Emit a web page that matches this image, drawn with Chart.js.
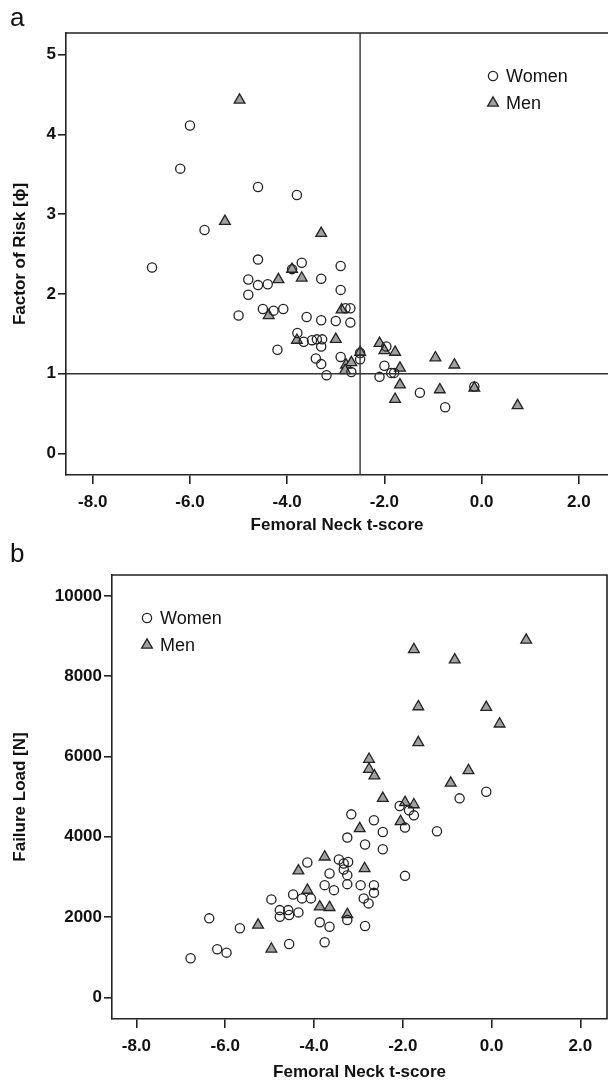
<!DOCTYPE html>
<html>
<head>
<meta charset="utf-8">
<script src="https://cdn.jsdelivr.net/npm/chart.js@4.4.1/dist/chart.umd.min.js"></script>
<style>
  html, body { margin: 0; padding: 0; background: #fff; }
  body { width: 608px; height: 1087px; position: relative; overflow: hidden; font-family: "Liberation Sans", Arial, sans-serif; }
  .panel { position: absolute; left: 0; width: 608px; }
  #wrapA { top: 0; height: 540px; }
  #wrapB { top: 540px; height: 547px; }
  .letter { position: absolute; left: 10px; font-size: 26px; color: #111; line-height: 1; }
</style>
</head>
<body>
<div class="panel" id="wrapA"><canvas id="chartA"></canvas></div>
<div class="panel" id="wrapB"><canvas id="chartB"></canvas></div>
<div class="letter" style="top:4px;">a</div>
<div class="letter" style="top:540px;">b</div>
<script>
// ---------- data ----------
const xTicks = [-8, -6, -4, -2, 0, 2];
const yTicksA = [0, 1, 2, 3, 4, 5];
const yTicksB = [0, 2000, 4000, 6000, 8000, 10000];
const seriesNames = ["Women", "Men"];
const thresholdT = -2.5;
const thresholdRisk = 1;

// Panel a: Factor of Risk vs femoral neck t-score
const womenTA = [-6.0, -6.2, -4.6, -3.8, -5.7, -6.78, -4.6, -3.7, -3.9, -2.9, -4.8, -4.6, -4.4, -3.3, -4.8, -2.9, -5.0, -4.5, -4.28, -4.08, -2.8, -2.7, -3.6, -3.3, -3.0, -2.7, -3.79, -3.66, -3.49, -3.39, -3.28, -3.3, -4.2, -3.41, -3.3, -2.9, -2.68, -3.19, -2.5, -2.5, -1.96, -2.0, -1.86, -1.8, -2.1, -1.27, -0.15, -0.75];
const womenRisk = [4.11, 3.57, 3.34, 3.24, 2.80, 2.33, 2.43, 2.39, 2.31, 2.35, 2.18, 2.11, 2.12, 2.19, 1.99, 2.05, 1.73, 1.81, 1.79, 1.81, 1.82, 1.82, 1.71, 1.67, 1.66, 1.64, 1.51, 1.40, 1.42, 1.43, 1.43, 1.34, 1.30, 1.19, 1.12, 1.21, 1.02, 0.98, 1.26, 1.18, 1.34, 1.10, 1.01, 1.01, 0.96, 0.76, 0.84, 0.58];
const menTA = [-4.98, -5.28, -3.3, -3.9, -4.18, -3.7, -4.38, -2.88, -3.8, -3.0, -2.79, -2.68, -2.81, -2.5, -2.1, -2.0, -1.78, -0.95, -0.56, -1.68, -1.68, -0.86, -0.15, -1.78, 0.74];
const menRisk = [4.43, 2.91, 2.76, 2.31, 2.18, 2.20, 1.73, 1.80, 1.42, 1.43, 1.11, 1.14, 1.04, 1.27, 1.38, 1.29, 1.27, 1.20, 1.11, 1.07, 0.86, 0.80, 0.82, 0.68, 0.60];

// Panel b: Failure load vs femoral neck t-score
const womenTB = [-0.12, -0.72, -2.07, -1.86, -1.75, -3.16, -2.65, -1.95, -1.23, -2.45, -3.25, -2.85, -2.45, -1.95, -4.15, -3.44, -3.33, -3.23, -3.65, -3.33, -3.25, -3.76, -3.55, -3.25, -2.95, -2.65, -2.65, -2.88, -2.77, -4.96, -4.47, -4.27, -4.07, -4.77, -4.58, -4.35, -4.77, -4.56, -3.25, -3.87, -3.65, -2.85, -4.56, -3.76, -6.36, -5.67, -6.18, -5.97, -6.78];
const womenLoad = [5122, 4956, 4765, 4657, 4533, 4558, 4410, 4228, 4136, 4119, 3979, 3805, 3689, 3026, 3358, 3433, 3334, 3373, 3085, 3184, 3043, 2794, 2670, 2819, 2794, 2794, 2603, 2464, 2340, 2439, 2563, 2464, 2464, 2173, 2173, 2116, 2007, 2049, 1925, 1868, 1759, 1776, 1329, 1371, 1967, 1719, 1197, 1113, 974];
const menTB = [0.78, -1.75, -0.83, -1.65, -0.12, 0.18, -1.65, -2.76, -2.76, -2.64, -0.52, -0.92, -2.45, -1.95, -1.75, -2.05, -2.97, -3.76, -2.86, -4.35, -4.15, -3.87, -3.65, -3.25, -5.26, -4.96];
const menLoad = [8898, 8665, 8408, 7241, 7224, 6811, 6347, 5932, 5683, 5519, 5651, 5336, 4956, 4856, 4799, 4380, 4203, 3498, 3209, 3150, 2670, 2255, 2240, 2066, 1801, 1205];

const xMin = -8.55, xMax = 2.6;
const yRangeA = [-0.27, 5.27];
const yRangeB = [-540, 10520];

// ---------- helpers ----------
const toPoints = (xs, ys) => xs.map((x, i) => ({ x: x, y: ys[i] }));
const INK = '#222222';
const TRI_FILL = '#a0a0a0';
const FONT = '"Liberation Sans", Arial, sans-serif';

function womenStyle(data) {
  return { label: seriesNames[0], data: data, pointStyle: 'circle', pointRadius: 4.6, pointHoverRadius: 4.6,
    pointBorderWidth: 1.3, pointBorderColor: INK, pointBackgroundColor: 'rgba(255,255,255,0)', showLine: false };
}
function menStyle(data) {
  return { label: seriesNames[1], data: data, pointStyle: 'triangle', pointRadius: 6.2, pointHoverRadius: 6.2,
    pointBorderWidth: 1.3, pointBorderColor: INK, pointBackgroundColor: TRI_FILL, showLine: false };
}

const framePlugin = {
  id: 'frame',
  afterDatasetsDraw(chart, args, opts) {
    const { ctx, chartArea: a, scales } = chart;
    ctx.save();
    if (opts.refLines) {
      ctx.strokeStyle = '#333';
      ctx.lineWidth = 1.4;
      const px = scales.x.getPixelForValue(thresholdT);
      const py = scales.y.getPixelForValue(thresholdRisk);
      ctx.beginPath();
      ctx.moveTo(px, a.top); ctx.lineTo(px, a.bottom);
      ctx.moveTo(a.left, py); ctx.lineTo(a.right, py);
      ctx.stroke();
    }
    ctx.strokeStyle = INK;
    ctx.lineWidth = 1.6;
    ctx.beginPath();
    ctx.moveTo(a.left, a.top); ctx.lineTo(a.right, a.top);
    if (opts.rightBorder) ctx.lineTo(a.right, a.bottom);
    ctx.stroke();
    // legend
    const lx = a.left + opts.legendX, ly = a.top + opts.legendY;
    chart.data.datasets.forEach((ds, i) => {
      const y = ly + i * 27;
      ctx.lineWidth = 1.3;
      ctx.strokeStyle = INK;
      ctx.fillStyle = ds.pointBackgroundColor;
      if (ds.pointStyle === 'circle') {
        ctx.beginPath(); ctx.arc(lx, y, 4.6, 0, Math.PI * 2); ctx.fill(); ctx.stroke();
      } else {
        const r = 6.2;
        ctx.beginPath();
        ctx.moveTo(lx, y - r);
        ctx.lineTo(lx + r * Math.sin(2 * Math.PI / 3), y - r * Math.cos(2 * Math.PI / 3));
        ctx.lineTo(lx + r * Math.sin(4 * Math.PI / 3), y - r * Math.cos(4 * Math.PI / 3));
        ctx.closePath(); ctx.fill(); ctx.stroke();
      }
      ctx.fillStyle = '#111';
      ctx.font = '18px ' + FONT;
      ctx.textBaseline = 'middle';
      ctx.textAlign = 'left';
      ctx.fillText(ds.label, lx + 13, y + 1);
    });
    ctx.restore();
  }
};

function makeOptions(cfg) {
  return {
    responsive: false,
    animation: false,
    layout: { autoPadding: false, padding: { top: cfg.padTop, right: cfg.padRight, left: 0, bottom: 0 } },
    plugins: { legend: { display: false }, tooltip: { enabled: false },
      frame: { refLines: cfg.refLines, legendX: cfg.legendX, legendY: cfg.legendY, rightBorder: cfg.rightBorder } },
    scales: {
      x: {
        type: 'linear', min: xMin, max: xMax,
        afterBuildTicks: s => { s.ticks = xTicks.map(v => ({ value: v })); },
        afterFit: s => { s.height = cfg.xHeight; s.paddingLeft = 0; s.paddingRight = 0; },
        ticks: { callback: v => Number(v).toFixed(1), color: '#111', padding: 8,
          font: { family: FONT, size: 17, weight: 'bold' }, maxRotation: 0, autoSkip: false },
        grid: { display: true, drawOnChartArea: false, drawTicks: true, tickLength: 9, color: INK, lineWidth: 1.6 },
        border: { display: true, color: INK, width: 1.6 },
        title: { display: true, text: 'Femoral Neck t-score', color: '#111', padding: { top: 0, bottom: 4 },
          font: { family: FONT, size: 17, weight: 'bold' } }
      },
      y: {
        type: 'linear', min: cfg.yRange[0], max: cfg.yRange[1],
        afterBuildTicks: s => { s.ticks = cfg.yTicks.map(v => ({ value: v })); },
        afterFit: s => { s.width = cfg.yWidth; s.paddingTop = 0; s.paddingBottom = 0; },
        ticks: { callback: v => String(v), color: '#111', padding: 2,
          font: { family: FONT, size: 17, weight: 'bold' }, autoSkip: false },
        grid: { display: true, drawOnChartArea: false, drawTicks: true, tickLength: 8, color: INK, lineWidth: 1.6 },
        border: { display: true, color: INK, width: 1.6 },
        title: { display: true, text: cfg.yTitle, color: '#111', padding: { top: 10, bottom: 0 },
          font: { family: FONT, size: 17, weight: 'bold' } }
      }
    }
  };
}

function setSize(id, w, h) { const c = document.getElementById(id); c.width = w; c.height = h; c.style.width = w + 'px'; c.style.height = h + 'px'; }
setSize('chartA', 608, 540);
setSize('chartB', 608, 547);

new Chart(document.getElementById('chartA'), {
  type: 'scatter',
  data: { datasets: [womenStyle(toPoints(womenTA, womenRisk)), menStyle(toPoints(menTA, menRisk))] },
  options: makeOptions({ padTop: 33, padRight: 0, xHeight: 65, yWidth: 66, yRange: yRangeA, yTicks: yTicksA,
    yTitle: 'Factor of Risk [\u03D5]', refLines: true, rightBorder: false, legendX: 427, legendY: 43 }),
  plugins: [framePlugin]
});

new Chart(document.getElementById('chartB'), {
  type: 'scatter',
  data: { datasets: [womenStyle(toPoints(womenTB, womenLoad)), menStyle(toPoints(menTB, menLoad))] },
  options: makeOptions({ padTop: 35, padRight: 1, xHeight: 68, yWidth: 112, yRange: yRangeB, yTicks: yTicksB,
    yTitle: 'Failure Load [N]', refLines: false, rightBorder: true, legendX: 35, legendY: 43 }),
  plugins: [framePlugin]
});
</script>
</body>
</html>
